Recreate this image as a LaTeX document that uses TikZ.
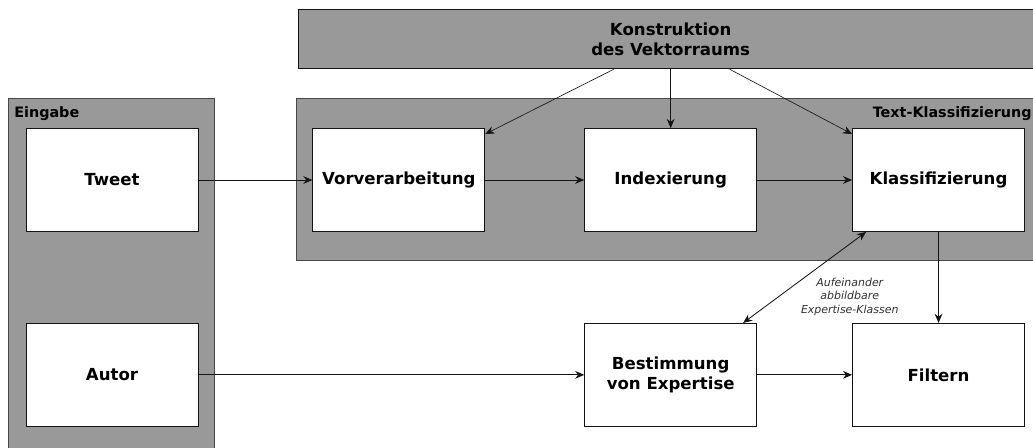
\documentclass[tikz,border=0pt]{standalone}
\usepackage{fontspec}
\setmainfont{DejaVu Sans}
\usepackage{tikz}
\usetikzlibrary{arrows.meta, positioning, calc, fit, backgrounds}
\definecolor{panelgray}{RGB}{153,153,153}
\definecolor{mydark}{RGB}{20,20,20}
\definecolor{myedge}{RGB}{70,70,70}
\definecolor{mylabel}{RGB}{50,50,50}
\tikzset{
  block/.style={rectangle, draw=mydark, fill=white,
    minimum width=4.3cm, minimum height=2.575cm, align=center,
    font=\fontsize{11.8}{14.2}\selectfont\bfseries, inner sep=0pt, line width=0.6pt},
  panel/.style={rectangle, draw=myedge, fill=panelgray, inner sep=0pt, line width=0.7pt},
  paneltitle/.style={font=\fontsize{10.2}{12}\selectfont\bfseries, inner sep=0pt},
  arrow/.style={-{Stealth[length=6.5pt, width=5.5pt]}, line width=0.6pt, color=mydark},
  thinarrow/.style={-{Stealth[length=6.5pt, width=5.5pt]}, line width=0.45pt, color=mydark},
  twoarrow/.style={{Stealth[length=6.5pt, width=5.5pt]}-{Stealth[length=6.5pt, width=5.5pt]}, line width=0.6pt, color=mydark},
  note/.style={font=\fontsize{7.8}{9.6}\selectfont\itshape, color=mylabel, align=center, inner sep=0pt}
}

\begin{document}
\begin{tikzpicture}[node distance=2.275cm and 2.475cm]
  \useasboundingbox (0,0) rectangle (25.825,-11.2);
  \node[block] (tweet) at (2.8,-4.5) {Tweet};
  \node[block, below=of tweet] (autor) {Autor};
  \node[block, right=2.85cm of tweet] (vor) {Vorverarbeitung};
  \node[block, right=of vor] (idx) {Indexierung};
  \node[block, right=2.375cm of idx] (kla) {Klassifizierung};
  \node[block, below=of idx] (best) {Bestimmung\\von Expertise};
  \node[block, below=of kla] (fil) {Filtern};
  \node[block, fill=panelgray, minimum width=18.6cm, minimum height=1.475cm, above=1.47cm of idx] (kon) {Konstruktion\\des Vektorraums};

  \begin{scope}[on background layer]
    \node[panel, fit={($(tweet.north west)+(-0.425,0.74)$) ($(autor.south east)+(0.4,-0.7)$)}] (eingabe) {};
    \node[panel, fit={($(vor.north west)+(-0.4,0.74)$) ($(kla.south east)+(0.4,-0.725)$)}] (textkl) {};
  \end{scope}
  \node[paneltitle, anchor=north west] (eintitle) at ($(eingabe.north west)+(0.15,-0.21)$) {Eingabe};
  \node[paneltitle, anchor=north east] (texttitle) at ($(textkl.north east)+(-0.24,-0.21)$) {Text-Klassifizierung};

  \draw[arrow] (tweet) -- (vor);
  \draw[arrow] (vor) -- (idx);
  \draw[arrow] (idx) -- (kla);
  \draw[arrow] (autor) -- (best);
  \draw[arrow] (best) -- (fil);
  \draw[arrow] (kla) -- (fil);
  \draw[thinarrow] ($(kon.south)+(-1.425,0)$) -- (vor.28);
  \draw[thinarrow] (kon) -- (idx);
  \draw[thinarrow] ($(kon.south)+(1.475,0)$) -- (kla.152);
  \draw[twoarrow] ($(kla.south west)+(0.35,0)$) -- node[note, midway, anchor=north west, xshift=-0.1cm] {Aufeinander\\abbildbare\\Expertise-Klassen} ($(best.north east)+(-0.35,0)$);
\end{tikzpicture}
\end{document}
